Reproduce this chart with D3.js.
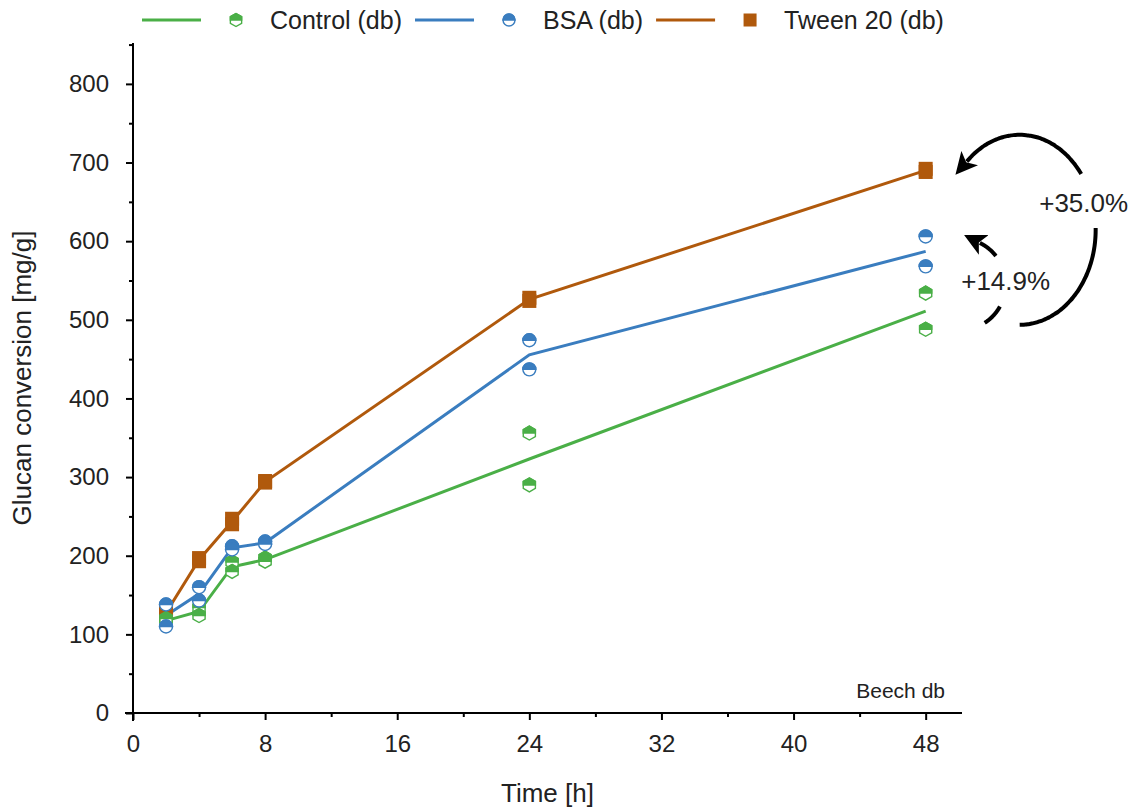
<!DOCTYPE html>
<html>
<head>
<meta charset="utf-8">
<script src="https://cdn.jsdelivr.net/npm/d3@7"></script>
<style>
  html, body { margin: 0; padding: 0; background: #fff; }
  svg { display: block; font-family: "Liberation Sans", Arial, sans-serif; }
</style>
</head>
<body>
<svg id="chart" width="1143" height="812"></svg>
<script>
// Sampling times (h)
const times = [2, 4, 6, 8, 24, 48];

// Replicate measurements, glucan conversion in mg/g
const controlRepA = [115, 134, 192, 197, 356, 534];
const controlRepB = [120, 124, 180, 193, 290, 488];
const bsaRepA     = [138, 160, 212, 218, 474, 606];
const bsaRepB     = [110, 143, 208, 215, 437, 568];
const tweenRepA   = [125, 193, 247, 295, 528, 692];
const tweenRepB   = [130, 197, 240, 293, 524, 688];

const seriesNames = ["Control (db)", "BSA (db)", "Tween 20 (db)"];
const seriesColors = ["#4aaf47", "#3a7dbf", "#b0590c"];
const seriesShapes = ["hexHalf", "circleHalf", "square"];

const xTickValues = [0, 8, 16, 24, 32, 40, 48];
const yTickValues = [0, 100, 200, 300, 400, 500, 600, 700, 800];

const panelLabel = "Beech db";
const xTitle = "Time [h]";
const yTitle = "Glucan conversion [mg/g]";

const series = [
  { name: seriesNames[0], color: seriesColors[0], shape: seriesShapes[0], reps: [controlRepA, controlRepB] },
  { name: seriesNames[1], color: seriesColors[1], shape: seriesShapes[1], reps: [bsaRepA, bsaRepB] },
  { name: seriesNames[2], color: seriesColors[2], shape: seriesShapes[2], reps: [tweenRepA, tweenRepB] }
];
series.forEach(s => {
  s.mean = times.map((t, i) => ({ t, v: d3.mean(s.reps, r => r[i]) }));
  s.points = s.reps.flatMap(r => r.map((v, i) => ({ t: times[i], v })));
});

const svg = d3.select("#chart");
const x = d3.scaleLinear().domain([0, 50.2]).range([133, 962]);
const y = d3.scaleLinear().domain([0, 852]).range([713, 43]);

// ---- axes ----
const axisG = svg.append("g");
const xAxis = d3.axisBottom(x).tickValues(xTickValues).tickSize(7).tickPadding(15).tickSizeOuter(0);
const gx = axisG.append("g").attr("transform", `translate(0,${y(0)})`).call(xAxis);
gx.select(".domain").attr("d", `M${x(0) - 8},0H${x(50.2)}`);
gx.selectAll(".tick text").attr("font-size", 24).attr("fill", "#222");
axisG.append("g").attr("transform", `translate(0,${y(0)})`)
  .call(d3.axisBottom(x).tickValues(d3.range(4, 50, 8)).tickSize(4).tickFormat(""))
  .select(".domain").remove();

const yAxis = d3.axisLeft(y).tickValues(yTickValues).tickSize(7).tickPadding(17).tickSizeOuter(0);
const gy = axisG.append("g").attr("transform", `translate(${x(0)},0)`).call(yAxis);
gy.select(".domain").attr("d", `M0,${y(0) + 8}V${y(852)}`);
gy.selectAll(".tick text").attr("font-size", 24).attr("fill", "#222");
axisG.append("g").attr("transform", `translate(${x(0)},0)`)
  .call(d3.axisLeft(y).tickValues(d3.range(50, 852, 100)).tickSize(4).tickFormat(""))
  .select(".domain").remove();

axisG.selectAll(".domain, .tick line").attr("stroke", "#000").attr("stroke-width", 2);

svg.append("text").attr("x", (x(0) + x(50.2)) / 2).attr("y", 802)
  .attr("text-anchor", "middle").attr("font-size", 26).attr("fill", "#222").text(xTitle);
svg.append("text").attr("transform", `translate(31,${(y(0) + y(852)) / 2}) rotate(-90)`)
  .attr("text-anchor", "middle").attr("font-size", 26).attr("fill", "#222").text(yTitle);

svg.append("text").attr("x", 945).attr("y", 698).attr("text-anchor", "end")
  .attr("font-size", 21).attr("fill", "#222").text(panelLabel);

// ---- marker drawing ----
function drawMarker(g, shape, color, size) {
  const r = size / 2;
  if (shape === "square") {
    g.append("rect").attr("x", -r).attr("y", -r).attr("width", size).attr("height", size).attr("fill", color);
  } else if (shape === "circleHalf") {
    g.append("circle").attr("r", r).attr("fill", "#fff").attr("stroke", color).attr("stroke-width", 1.4);
    g.append("path").attr("d", `M${-r},0A${r},${r} 0 0 1 ${r},0Z`).attr("fill", color)
      .attr("stroke", color).attr("stroke-width", 1.4);
  } else {
    const h = r * 0.866;
    const hex = [[0, -r], [h, -r / 2], [h, r / 2], [0, r], [-h, r / 2], [-h, -r / 2]];
    g.append("path").attr("d", "M" + hex.join("L") + "Z").attr("fill", "#fff")
      .attr("stroke", color).attr("stroke-width", 1.4);
    g.append("path").attr("d", `M${-h},0L${-h},${-r / 2}L0,${-r}L${h},${-r / 2}L${h},0Z`)
      .attr("fill", color).attr("stroke", color).attr("stroke-width", 1.4);
  }
}
const markerSize = shape => shape === "square" ? 14 : (shape === "hexHalf" ? 14 : 13);

// ---- mean lines ----
const line = d3.line().x(d => x(d.t)).y(d => y(d.v));
series.forEach(s => {
  svg.append("path").datum(s.mean).attr("d", line).attr("fill", "none")
    .attr("stroke", s.color).attr("stroke-width", 3);
});

// ---- replicate markers ----
[series[2], series[0], series[1]].forEach(s => {
  svg.append("g").selectAll("g").data(s.points).join("g")
    .attr("transform", d => `translate(${x(d.t)},${y(d.v)})`)
    .each(function () { drawMarker(d3.select(this), s.shape, s.color, markerSize(s.shape)); });
});

// ---- legend ----
const legend = svg.append("g").attr("transform", "translate(0,20)");
let lx = 142;
series.forEach(s => {
  const g = legend.append("g").attr("transform", `translate(${lx},0)`);
  g.append("line").attr("x1", 0).attr("x2", 59).attr("stroke", s.color).attr("stroke-width", 3);
  drawMarker(g.append("g").attr("transform", "translate(94,0)"), s.shape, s.color, markerSize(s.shape) - 1);
  const t = g.append("text").attr("x", 128).attr("y", 9).attr("font-size", 25).attr("fill", "#222").text(s.name);
  lx += 128 + t.node().getComputedTextLength() + 13;
});

// ---- percentage annotations at 48 h ----
const defs = svg.append("defs");
defs.append("marker").attr("id", "head").attr("viewBox", "0 0 10 10")
  .attr("refX", 2).attr("refY", 5).attr("markerWidth", 5.5).attr("markerHeight", 5.5)
  .attr("orient", "auto").attr("markerUnits", "strokeWidth")
  .append("path").attr("d", "M0,0L10,5L0,10L2.5,5Z").attr("fill", "#000");

const tEnd = times[times.length - 1];
const ctrlEnd = series[0].mean[times.length - 1].v;
const bsaEnd = series[1].mean[times.length - 1].v;
const tweenEnd = series[2].mean[times.length - 1].v;

function ellipseArc(cx, cy, rx, ry, a0, a1) {
  const n = 60;
  return d3.range(n + 1).map(i => {
    const a = (a0 + (a1 - a0) * i / n) * Math.PI / 180;
    return [cx + rx * Math.cos(a), cy + ry * Math.sin(a)];
  });
}
const arcLine = d3.line().curve(d3.curveBasis);

// large loop: Tween 20 relative to control
const bx = x(tEnd) + 94, by = (y(ctrlEnd) + y(tweenEnd)) / 2 - 11;
svg.append("path").attr("d", arcLine(ellipseArc(bx, by, 76, 95, -36, -134)))
  .attr("fill", "none").attr("stroke", "#000").attr("stroke-width", 4).attr("marker-end", "url(#head)");
svg.append("path").attr("d", arcLine(ellipseArc(bx, by, 76, 95, -1, 90)))
  .attr("fill", "none").attr("stroke", "#000").attr("stroke-width", 4);
svg.append("text").attr("x", bx + 64).attr("y", by - 18).attr("text-anchor", "middle")
  .attr("font-size", 26).attr("fill", "#222")
  .text("+" + ((tweenEnd / ctrlEnd - 1) * 100).toFixed(1) + "%");

// small loop: BSA relative to control
const sx = x(tEnd) + 34, sy = (y(ctrlEnd) + y(bsaEnd)) / 2 + 3;
svg.append("path").attr("d", arcLine(ellipseArc(sx, sy, 46, 46, 57, 29)))
  .attr("fill", "none").attr("stroke", "#000").attr("stroke-width", 4);
svg.append("path").attr("d", arcLine(ellipseArc(sx, sy, 46, 46, -38, -64)))
  .attr("fill", "none").attr("stroke", "#000").attr("stroke-width", 4).attr("marker-end", "url(#head)");
svg.append("text").attr("x", sx + 46).attr("y", sy + 6).attr("text-anchor", "middle")
  .attr("font-size", 26).attr("fill", "#222")
  .text("+" + ((bsaEnd / ctrlEnd - 1) * 100).toFixed(1) + "%");
</script>
</body>
</html>
